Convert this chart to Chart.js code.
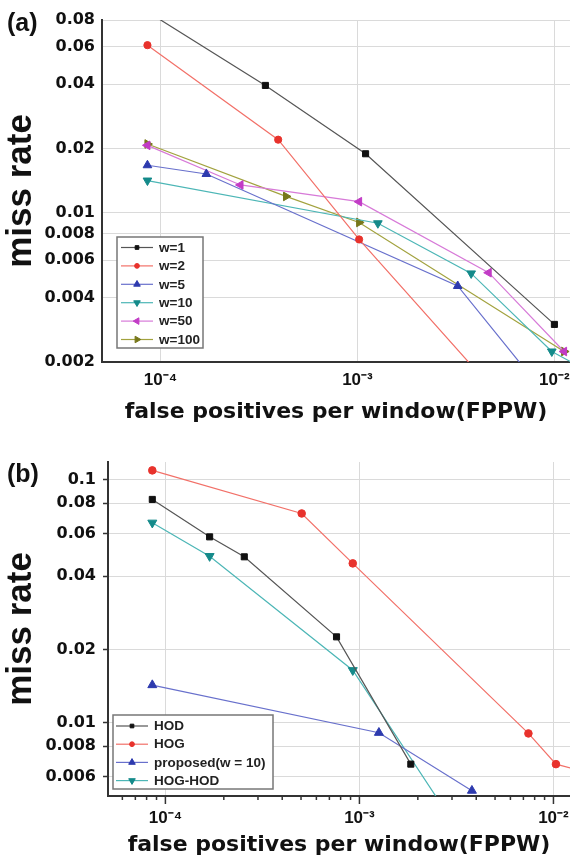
<!DOCTYPE html>
<html>
<head>
<meta charset="utf-8">
<script src="https://cdn.jsdelivr.net/npm/chart.js@4.4.0/dist/chart.umd.min.js"></script>
<style>
  html, body { margin: 0; padding: 0; background: #fff; }
  #wrap { position: relative; width: 570px; height: 863px; overflow: hidden; }
  .panel { position: absolute; left: 0; width: 570px; }
  #boxA { top: 0; height: 430px; }
  #boxB { top: 430px; height: 433px; }
  .tag { position: absolute; left: 7px; line-height: 28px; color: #111;
         font: bold 25px 'Liberation Sans', Arial, sans-serif; }
</style>
</head>
<body>
<div id="wrap">
  <div class="panel" id="boxA"><canvas id="chartA" width="570" height="430"></canvas></div>
  <div class="panel" id="boxB"><canvas id="chartB" width="570" height="433"></canvas></div>
  <div class="tag" style="top:8px">(a)</div>
  <div class="tag" style="top:459px">(b)</div>
</div>
<script>
// ─── Data: panel (a), window sizes ────────────────────────────
const fppwW1   = [8.5e-5, 3.41e-4, 1.10e-3, 1.0e-2];
const missW1   = [0.088, 0.0395, 0.0189, 0.0030];
const fppwW2   = [8.59e-5, 3.96e-4, 1.02e-3, 5.0e-3];
const missW2   = [0.0610, 0.0220, 0.0075, 0.00145];
const fppwW5   = [8.59e-5, 1.71e-4, 3.23e-3, 8.2e-3];
const missW5   = [0.0167, 0.0152, 0.00454, 0.00157];
const fppwW10  = [8.59e-5, 1.27e-3, 3.78e-3, 9.7e-3, 1.35e-2];
const missW10  = [0.01416, 0.00893, 0.0052, 0.00224, 0.0019];
const fppwW50  = [8.59e-5, 2.55e-4, 1.02e-3, 4.64e-3, 1.12e-2];
const missW50  = [0.0207, 0.0135, 0.01127, 0.00524, 0.00224];
const fppwW100 = [8.59e-5, 4.34e-4, 1.02e-3, 1.12e-2];
const missW100 = [0.0210, 0.01193, 0.00901, 0.00224];

// ─── Data: panel (b), descriptors ─────────────────────────────
const fppwHOD  = [8.56e-5, 1.69e-4, 2.55e-4, 7.62e-4, 1.84e-3];
const missHOD  = [0.0828, 0.0581, 0.0481, 0.02255, 0.00676];
const fppwHOG  = [8.56e-5, 5.04e-4, 9.24e-4, 7.43e-3, 1.03e-2, 1.53e-2];
const missHOG  = [0.109, 0.0725, 0.0452, 0.00904, 0.00676, 0.0062];
const fppwProp = [8.56e-5, 1.26e-3, 3.80e-3];
const missProp = [0.01429, 0.0091, 0.00526];
const fppwHH   = [8.56e-5, 1.69e-4, 9.24e-4, 3.1e-3];
const missHH   = [0.0664, 0.0484, 0.01644, 0.0038];

// ─── Ticks ────────────────────────────────────────────────────
const xTicks      = [1e-4, 1e-3, 1e-2];
const xTickLabels = ['10\u207B\u2074', '10\u207B\u00B3', '10\u207B\u00B2'];
const xMinorB     = [6e-5, 7e-5, 8e-5, 9e-5, 2e-4, 3e-4, 4e-4, 5e-4, 6e-4, 7e-4, 8e-4, 9e-4,
                     2e-3, 3e-3, 4e-3, 5e-3, 6e-3, 7e-3, 8e-3, 9e-3];
const yTicksA     = [0.002, 0.004, 0.006, 0.008, 0.01, 0.02, 0.04, 0.06, 0.08];
const yTicksB     = [0.006, 0.008, 0.01, 0.02, 0.04, 0.06, 0.08, 0.1];

// ─── Styles ───────────────────────────────────────────────────
const SANS   = "'Liberation Sans', Arial, sans-serif";
const WIDE   = "'DejaVu Sans', Verdana, sans-serif";
const gridCol = '#dadada';
const axisCol = '#333';

Chart.defaults.font.family = SANS;
Chart.defaults.color = '#111';

function series(label, xs, ys, marker, line, style, rot, r) {
  return {
    label,
    data: xs.map((x, i) => ({ x, y: ys[i] })),
    borderColor: line, backgroundColor: marker,
    pointBackgroundColor: marker, pointBorderColor: marker,
    pointStyle: style, pointRotation: rot, pointRadius: r, pointBorderWidth: 1,
    borderWidth: 1.2, tension: 0,
  };
}

// legend drawn inside the plot, line sample + marker like the original
const boxLegend = {
  id: 'boxLegend',
  afterDraw(chart, args, o) {
    const ctx = chart.ctx;
    ctx.save();
    ctx.fillStyle = '#fff';
    ctx.fillRect(o.x, o.y, o.w, o.h);
    ctx.strokeStyle = '#777';
    ctx.lineWidth = 1.5;
    ctx.strokeRect(o.x, o.y, o.w, o.h);
    ctx.font = 'bold ' + o.size + 'px ' + SANS;
    ctx.textBaseline = 'middle';
    chart.data.datasets.forEach((ds, i) => {
      const cy = o.first + i * o.row;
      ctx.strokeStyle = ds.borderColor;
      ctx.lineWidth = 1.2;
      ctx.beginPath();
      ctx.moveTo(o.x0, cy); ctx.lineTo(o.x1, cy);
      ctx.stroke();
      ctx.fillStyle = ds.pointBackgroundColor;
      ctx.strokeStyle = ds.pointBorderColor;
      ctx.lineWidth = 1;
      const r = ds.pointStyle === 'rect' ? 2.6 : ds.pointStyle === 'circle' ? 2.4 : 3.8;
      Chart.helpers.drawPoint(ctx, { pointStyle: ds.pointStyle, rotation: ds.pointRotation, radius: r, borderWidth: 1 }, (o.x0 + o.x1) / 2, cy);
      ctx.fillStyle = '#222';
      ctx.fillText(ds.label, o.tx, cy + 0.5);
    });
    ctx.restore();
  },
};

// outward tick marks under the x axis of panel (b)
const xTickMarks = {
  id: 'xTickMarks',
  afterDraw(chart, args, o) {
    if (!o.on) return;
    const s = chart.scales.x, ctx = chart.ctx;
    ctx.save();
    ctx.strokeStyle = axisCol;
    ctx.lineWidth = 1.5;
    s.ticks.forEach(t => {
      const px = s.getPixelForValue(t.value);
      const len = xTicks.includes(t.value) ? 8 : 4;
      ctx.beginPath();
      ctx.moveTo(px, s.top); ctx.lineTo(px, s.top + len);
      ctx.stroke();
    });
    ctx.restore();
  },
};

function xAxis(min, max, extra, height, pad) {
  const all = xTicks.concat(extra).sort((a, b) => a - b);
  return {
    type: 'logarithmic', min, max, bounds: 'data',
    afterBuildTicks: s => { s.ticks = all.map(v => ({ value: v })); },
    // fixed height, and no extra side room for the end labels (plot runs to the edge)
    afterFit: s => { s.height = height; s.paddingLeft = 0; s.paddingRight = 0; },
    grid: { color: c => xTicks.includes(c.tick.value) ? gridCol : 'rgba(0,0,0,0)', drawTicks: false },
    border: { color: axisCol, width: 2 },
    ticks: {
      autoSkip: false, maxRotation: 0, padding: pad, color: '#111',
      font: { family: SANS, size: 17, weight: 'bold' },
      callback: v => { const i = xTicks.indexOf(v); return i < 0 ? '' : xTickLabels[i]; },
    },
    title: {
      display: true, text: 'false positives per window(FPPW)', color: '#111',
      font: { family: WIDE, size: 22, weight: 'bold' }, padding: { top: 0, bottom: 5 },
    },
  };
}

function yAxis(min, max, ticks, width, tickLen) {
  return {
    type: 'logarithmic', min, max, bounds: 'data',
    afterBuildTicks: s => { s.ticks = ticks.map(v => ({ value: v })); },
    afterFit: s => { s.width = width; s.paddingTop = 0; s.paddingBottom = 0; },
    grid: { color: gridCol, drawTicks: tickLen > 0, tickLength: tickLen, tickColor: axisCol, tickWidth: 1.5 },
    border: { color: axisCol, width: 2 },
    ticks: {
      autoSkip: false, padding: 7, color: '#111',
      font: { family: WIDE, size: 16, weight: 'bold' },
      callback: v => String(v),
    },
    title: {
      display: true, text: 'miss rate', color: '#111',
      font: { family: SANS, size: 35, weight: 'bold' }, padding: { top: 0, bottom: 0 },
    },
  };
}

// ─── Panel (a) ────────────────────────────────────────────────
new Chart(document.getElementById('chartA'), {
  type: 'line',
  data: {
    datasets: [
      series('w=1',   fppwW1,   missW1,   '#111111', '#555555', 'rect',     0,   4.3),
      series('w=2',   fppwW2,   missW2,   '#e8322c', '#f27068', 'circle',   0,   3.6),
      series('w=5',   fppwW5,   missW5,   '#2d3aae', '#6870cc', 'triangle', 0,   5),
      series('w=10',  fppwW10,  missW10,  '#148a8a', '#4cb6b6', 'triangle', 180, 5),
      series('w=50',  fppwW50,  missW50,  '#c23cc6', '#d77ad8', 'triangle', -90, 5),
      series('w=100', fppwW100, missW100, '#77771a', '#a2a23e', 'triangle', 90,  5),
    ],
  },
  options: {
    responsive: false, animation: false, events: [],
    layout: { autoPadding: false, padding: { top: 20, right: 0, bottom: 0, left: 0 } },
    plugins: {
      legend: { display: false }, tooltip: { enabled: false },
      boxLegend: { x: 117, y: 237, w: 86, h: 111, first: 247.5, row: 18.4, x0: 121, x1: 153, tx: 159, size: 13.5 },
      xTickMarks: { on: false },
    },
    scales: {
      x: xAxis(5.05e-5, 0.012, [], 68, 8),
      y: yAxis(0.002, 0.08, yTicksA, 102, 0),
    },
  },
  plugins: [boxLegend, xTickMarks],
});

// ─── Panel (b) ────────────────────────────────────────────────
new Chart(document.getElementById('chartB'), {
  type: 'line',
  data: {
    datasets: [
      series('HOD',               fppwHOD,  missHOD,  '#111111', '#555555', 'rect',     0,   4.3),
      series('HOG',               fppwHOG,  missHOG,  '#e8322c', '#f27068', 'circle',   0,   3.8),
      series('proposed(w = 10)',  fppwProp, missProp, '#2d3aae', '#6870cc', 'triangle', 0,   5.2),
      series('HOG-HOD',           fppwHH,   missHH,   '#148a8a', '#4cb6b6', 'triangle', 180, 5.2),
    ],
  },
  options: {
    responsive: false, animation: false, events: [],
    layout: { autoPadding: false, padding: { top: 32, right: 0, bottom: 0, left: 0 } },
    plugins: {
      legend: { display: false }, tooltip: { enabled: false },
      boxLegend: { x: 113, y: 285, w: 160, h: 74, first: 296, row: 18.2, x0: 116, x1: 148, tx: 154, size: 13.5 },
      xTickMarks: { on: true },
    },
    scales: {
      x: xAxis(5.06e-5, 0.01217, xMinorB, 67, 12),
      y: yAxis(0.005, 0.118, yTicksB, 108, 5),
    },
  },
  plugins: [boxLegend, xTickMarks],
});
</script>
</body>
</html>
